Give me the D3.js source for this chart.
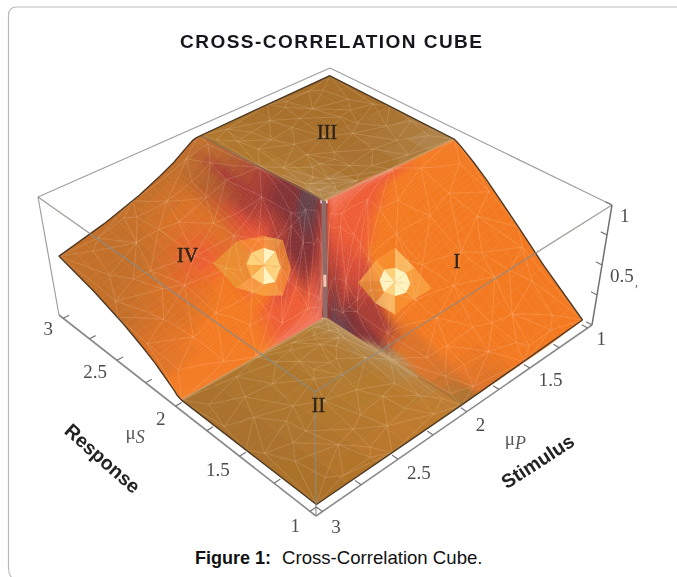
<!DOCTYPE html>
<html>
<head>
<meta charset="utf-8">
<script src="https://d3js.org/d3.v7.min.js"></script>
<style>
  html, body { margin: 0; padding: 0; background: #fff; overflow: hidden; }
  svg { display: block; }
</style>
</head>
<body>
<svg id="chart"></svg>
<script>
// surface values
// quadrant I: stimulus below 2, response below 2
const muP_I = [1, 1.3, 1.55, 1.7, 1.8, 1.85, 1.9, 1.94, 1.97, 2];
const muS_I = [1, 1.3, 1.5, 1.65, 1.75, 1.85, 1.9, 1.95, 1.98, 2];
const z_I = [
  [.04, .30, .50, .65, .75, .84, .88, .92, .94, .95],
  [.02, .23, .41, .57, .68, .79, .85, .91, .95, .96],
  [.02, .16, .31, .46, .57, .72, .80, .90, .96, .98],
  [.02, .11, .23, .36, .47, .63, .73, .85, .94, 1],
  [.02, .08, .17, .27, .38, .53, .64, .79, .91, 1],
  [.02, .06, .13, .22, .31, .46, .57, .74, .88, 1],
  [.02, .04, .09, .16, .23, .36, .47, .66, .83, 1],
  [.02, .03, .06, .10, .15, .25, .35, .53, .75, 1],
  [.02, .02, .03, .05, .08, .15, .21, .36, .60, 1],
  [.02, .02, .02, .02, .02, .02, .02, .02, .02, .02],
];
const tone_I = [
  "oooooooooo",
  "oooooooooo",
  "ooooooooeE",
  "nooooooeeE",
  "noooooeeeE",
  "nnnorreeeE",
  "bnnddrreeE",
  "bnndddrreE",
  "bntmmmddre",
  "bbttmgggmg",
];

// quadrant IV: both above 2
const muP_IV = [2, 2.03, 2.06, 2.1, 2.15, 2.2, 2.3, 2.45, 2.7, 3];
const muS_IV = [2, 2.03, 2.06, 2.1, 2.15, 2.2, 2.3, 2.45, 2.7, 3];
const z_IV = [
  [.5, 1, 1, 1, 1, 1, .99, .98, .96, .95],
  [.02, .5, .67, .77, .83, .87, .91, .94, .95, .95],
  [.02, .33, .5, .63, .71, .77, .83, .88, .92, .94],
  [.02, .23, .38, .5, .6, .67, .75, .82, .88, .91],
  [.02, .17, .29, .4, .5, .57, .67, .75, .82, .87],
  [.02, .13, .23, .33, .43, .5, .6, .69, .78, .83],
  [.02, .09, .17, .25, .33, .4, .5, .6, .7, .77],
  [.02, .06, .12, .18, .25, .31, .4, .5, .61, .69],
  [.02, .04, .08, .13, .18, .22, .3, .39, .5, .59],
  [.02, .03, .06, .09, .13, .17, .23, .31, .41, .5],
];
const tone_IV = [
  "EmgggmmdDN",
  "EdmggmmdDN",
  "ErmmmmmdDN",
  "EedmmddddN",
  "EeerddrdDN",
  "EeereeerDN",
  "EeeeoeennN",
  "oooooooenN",
  "oooooonnNN",
  "oooonnnNNN",
];

// the two flat quadrants
const muP_II = [2, 2.15, 2.4, 3];
const muS_II = [1, 1.5, 2];
const z_II = [[.02, .02, .02], [.02, .02, .02], [.02, .02, .02], [.02, .02, .02]];
const tone_II = ["ctt", "cBB", "cBB", "bbb"];

const muP_III = [1, 1.6, 2];
const muS_III = [2, 2.5, 3];
const z_III = [[.95, .96, .97], [.97, .97, .96], [1, .98, .95]];
const tone_III = ["tbb", "bbb", "tBB"];

// highlight facets: centre, inner ring, outer ring
const spotI_P = [1.762, 1.703, 1.746, 1.798, 1.829, 1.821, 1.778, 1.726, 1.695,
  1.63, 1.735, 1.845, 1.882, 1.9, 1.789, 1.68, 1.642];
const spotI_S = [1.706, 1.647, 1.639, 1.67, 1.722, 1.765, 1.773, 1.742, 1.69,
  1.56, 1.592, 1.62, 1.735, 1.845, 1.82, 1.79, 1.677];
const spotI_core = "wwywwyww";
const spotI_rim = "aOyAaOya";

const spotIV_P = [2.245, 2.18, 2.231, 2.29, 2.323, 2.31, 2.259, 2.2, 2.167,
  2.141, 2.223, 2.317, 2.417, 2.434, 2.276, 2.173, 2.12];
const spotIV_S = [2.215, 2.15, 2.137, 2.17, 2.229, 2.28, 2.293, 2.26, 2.201,
  2.111, 2.09, 2.143, 2.246, 2.404, 2.387, 2.287, 2.193];
const spotIV_core = "ywyayywy";
const spotIV_rim = "OaaAAOaO";

// mesh vertices, as fractions away from the centre of the cube
const meshF = [0, 1, 0, 1, .5, .5, 0, 1, .25, .75, .12, .38, .62, .88, .3, .7, .18, .45, .55, .82,
  .92, .08, .35, .65, .22, .48, .78, .05, .15, .03, .09, .02, .06, .13, .2, .28, .04, .11, .17, .07,
  .42, .58, .95, .33, .72, .15, .85, .52, .27, .68, .1, .97, .4, .6, .8, .24, .03, .36];
const meshG = [0, 0, 1, 1, 0, 1, .5, .5, .3, .2, .65, .85, .42, .72, .55, .6, .15, .1, .9, .35,
  .12, .4, .28, .78, .82, .5, .95, .2, .07, .05, .03, .12, .1, .22, .3, .04, .15, .02, .1, .18,
  .7, .22, .58, .08, .48, .95, .9, .75, .42, .05, .8, .3, .34, .95, .62, .68, .9, .18];

const palette = {
  b: "#a8702c", B: "#b27a30", c: "#c07a2c", t: "#b48c58", g: "#664048", m: "#833034", d: "#a83c34",
  r: "#d64c38", e: "#ee5c34", E: "#f2785e", o: "#f47a22", O: "#f99634", n: "#dc7228", N: "#c2702a",
  D: "#b25c2c", A: "#ea9c34", a: "#f9ac48", y: "#fdd27a", w: "#fff4c0",
};

const muTicks = [1, 1.25, 1.5, 1.75, 2, 2.25, 2.5, 2.75, 3];
const muLabels = [1, 1.5, 2, 2.5, 3];
const zTicks = [0, .25, .5, .75, 1];
const zLabels = [.5, 1];

const width = 677;
const height = 577;

// cube corners on the page, [right, front, left, back]
const baseQuad = [[592, 325], [316, 516], [59, 315], [332, 181]];
const topQuad = [[612, 205], [315, 392], [38, 197], [330, 68]];

function squareToQuad(q) {
  const dx1 = q[1][0] - q[2][0], dx2 = q[3][0] - q[2][0], dx3 = q[0][0] - q[1][0] + q[2][0] - q[3][0];
  const dy1 = q[1][1] - q[2][1], dy2 = q[3][1] - q[2][1], dy3 = q[0][1] - q[1][1] + q[2][1] - q[3][1];
  const den = dx1 * dy2 - dx2 * dy1;
  const g = (dx3 * dy2 - dx2 * dy3) / den;
  const h = (dx1 * dy3 - dx3 * dy1) / den;
  const a = q[1][0] - q[0][0] + g * q[1][0];
  const b = q[3][0] - q[0][0] + h * q[3][0];
  const d = q[1][1] - q[0][1] + g * q[1][1];
  const e = q[3][1] - q[0][1] + h * q[3][1];
  return (u, v) => {
    const w = g * u + h * v + 1;
    return [(a * u + b * v + q[0][0]) / w, (d * u + e * v + q[0][1]) / w];
  };
}

const onBase = squareToQuad(baseQuad);
const onTop = squareToQuad(topQuad);
const scaleP = d3.scaleLinear([0.96, 3.04], [0, 1]);
const scaleS = d3.scaleLinear([0.96, 3.04], [0, 1]);
const scaleZ = d3.scaleLinear([0, 1], [0, 1]);

function project(mp, ms, z) {
  const u = scaleP(mp), v = scaleS(ms), w = scaleZ(z);
  const p0 = onBase(u, v), p1 = onTop(u, v);
  return [p0[0] + (p1[0] - p0[0]) * w, p0[1] + (p1[1] - p0[1]) * w];
}

const patches = [
  { muP: muP_III, muS: muS_III, z: z_III, tone: tone_III, sub: 3 },
  { muP: muP_IV, muS: muS_IV, z: z_IV, tone: tone_IV, sub: 4 },
  { muP: muP_I, muS: muS_I, z: z_I, tone: tone_I, sub: 4 },
  { muP: muP_II, muS: muS_II, z: z_II, tone: tone_II, sub: 3 },
];

function cellOf(list, value) {
  return Math.max(0, Math.min(list.length - 2, d3.bisectRight(list, value) - 1));
}

function patchFor(mp, ms) {
  if (mp <= 2) return ms <= 2 ? patches[2] : patches[0];
  return ms <= 2 ? patches[3] : patches[1];
}

function mixCell(patch, i, j, s, t) {
  const z = patch.z;
  return (z[i][j] * (1 - s) + z[i + 1][j] * s) * (1 - t) + (z[i][j + 1] * (1 - s) + z[i + 1][j + 1] * s) * t;
}

function zAt(mp, ms) {
  const patch = patchFor(mp, ms);
  const i = cellOf(patch.muP, mp), j = cellOf(patch.muS, ms);
  const s = (mp - patch.muP[i]) / (patch.muP[i + 1] - patch.muP[i]);
  const t = (ms - patch.muS[j]) / (patch.muS[j + 1] - patch.muS[j]);
  return mixCell(patch, i, j, s, t);
}

function lerpRgb(a, b, t) {
  return { r: a.r + (b.r - a.r) * t, g: a.g + (b.g - a.g) * t, b: a.b + (b.b - a.b) * t };
}

const svg = d3.select("#chart")
  .attr("width", width)
  .attr("height", height)
  .attr("viewBox", [0, 0, width, height])
  .style("font-family", "'Liberation Serif', serif");

const defs = svg.append("defs");
defs.append("filter").attr("id", "soft").attr("x", "-5%").attr("y", "-5%").attr("width", "110%").attr("height", "110%")
  .append("feGaussianBlur").attr("stdDeviation", 0.6);
defs.append("filter").attr("id", "softText").attr("x", "-10%").attr("y", "-20%").attr("width", "120%").attr("height", "140%")
  .append("feGaussianBlur").attr("stdDeviation", 0.45);

// panel border, open on the right
svg.append("path")
  .attr("d", "M677,7 H17 Q8.5,7 8.5,15.5 V568 Q8.5,575 13,579")
  .attr("fill", "none")
  .attr("stroke", "#b9b9b9")
  .attr("stroke-width", 1.2);

const plot = svg.append("g").attr("filter", "url(#soft)");

function line3d(points) {
  return d3.line()(points.map(p => project(p[0], p[1], p[2])));
}

// back edges of the cube, behind the surface
plot.append("path")
  .attr("d", line3d([[0.96, 3.04, 1], [3.04, 3.04, 1]]) + line3d([[0.96, 3.04, 1], [0.96, 0.96, 1]]) + line3d([[3.04, 3.04, 1], [3.04, 3.04, 0]]))
  .attr("fill", "none").attr("stroke", "#a0a0a0").attr("stroke-width", 1.2);
plot.append("path")
  .attr("d", line3d([[0.96, 0.96, 1], [0.96, 0.96, 0]]))
  .attr("fill", "none").attr("stroke", "#6f6f6f").attr("stroke-width", 1.5);

// backing for the cliff, so no paper shows between the two slopes
plot.append("path").attr("d", line3d([[2, 2, .02], [2, 2, .98]]))
  .attr("fill", "none").attr("stroke", "#9a4a44").attr("stroke-width", 12);

// surface cells, far ones first
const surface = plot.append("g");
for (const patch of patches) {
  const cells = [];
  for (let i = 0; i < patch.muP.length - 1; i++) {
    for (let j = 0; j < patch.muS.length - 1; j++) {
      cells.push({ i, j, depth: onBase(scaleP(patch.muP[i]), scaleS(patch.muS[j]))[1] });
    }
  }
  cells.sort((a, b) => a.depth - b.depth);
  for (const cell of cells) {
    const { i, j } = cell;
    const c00 = d3.rgb(palette[patch.tone[i][j]]);
    const c10 = d3.rgb(palette[patch.tone[i + 1][j]]);
    const c01 = d3.rgb(palette[patch.tone[i][j + 1]]);
    const c11 = d3.rgb(palette[patch.tone[i + 1][j + 1]]);
    const n = patch.sub;
    const at = (s, t) => {
      const mp = patch.muP[i] + (patch.muP[i + 1] - patch.muP[i]) * s;
      const ms = patch.muS[j] + (patch.muS[j + 1] - patch.muS[j]) * t;
      return project(mp, ms, mixCell(patch, i, j, s, t));
    };
    for (let a = 0; a < n; a++) {
      for (let b = 0; b < n; b++) {
        const s = (a + 0.5) / n, t = (b + 0.5) / n;
        const col = lerpRgb(lerpRgb(c00, c10, s), lerpRgb(c01, c11, s), t);
        const fill = d3.rgb(col.r, col.g, col.b).formatHex();
        surface.append("polygon")
          .attr("points", [at(a / n, b / n), at((a + 1) / n, b / n), at((a + 1) / n, (b + 1) / n), at(a / n, (b + 1) / n)].join(" "))
          .attr("fill", fill)
          .attr("stroke", fill)
          .attr("stroke-width", 0.6);
      }
    }
  }
}

// highlight facets
function drawSpot(sp, ss, core, rim) {
  const g = plot.append("g");
  const pt = k => project(sp[k], ss[k], zAt(sp[k], ss[k]));
  for (let k = 0; k < 8; k++) {
    const a = 1 + k, b = 1 + (k + 1) % 8;
    g.append("polygon")
      .attr("points", [pt(a), pt(b), pt(b + 8), pt(a + 8)].join(" "))
      .attr("fill", palette[rim[k]]).attr("fill-opacity", 0.7);
  }
  for (let k = 0; k < 8; k++) {
    const a = 1 + k, b = 1 + (k + 1) % 8;
    g.append("polygon")
      .attr("points", [pt(0), pt(a), pt(b)].join(" "))
      .attr("fill", palette[core[k]]);
  }
}
drawSpot(spotI_P, spotI_S, spotI_core, spotI_rim);
drawSpot(spotIV_P, spotIV_S, spotIV_core, spotIV_rim);

// white mesh, one set of edges per quadrant
const delaunay = d3.Delaunay.from(meshF.map((f, k) => [f, meshG[k]]));
const meshEdges = [];
for (let e = 0; e < delaunay.halfedges.length; e++) {
  const o = delaunay.halfedges[e];
  if (o < e) continue;
  const next = e % 3 === 2 ? e - 2 : e + 1;
  meshEdges.push([delaunay.triangles[e], delaunay.triangles[next]]);
}
const meshPath = d3.path();
[[-1, -1], [-1, 1], [1, 1], [1, -1]].forEach(([sp, ss]) => {
  for (const [p, q] of meshEdges) {
    for (let k = 0; k <= 6; k++) {
      const t = k / 6;
      const f = meshF[p] + (meshF[q] - meshF[p]) * t;
      const g = meshG[p] + (meshG[q] - meshG[p]) * t;
      const mp = 2 + sp * Math.max(f, 0.006);
      const ms = 2 + ss * Math.max(g, 0.006);
      const xy = project(mp, ms, zAt(mp, ms));
      if (k === 0) meshPath.moveTo(xy[0], xy[1]); else meshPath.lineTo(xy[0], xy[1]);
    }
  }
});
plot.append("path")
  .attr("d", meshPath.toString())
  .attr("fill", "none")
  .attr("stroke", "#fff0dc")
  .attr("stroke-opacity", 0.2)
  .attr("stroke-width", 0.8);

// folds of the surface
function surfaceLine(points) {
  return d3.line()(points.map(p => project(p[0], p[1], zAt(p[0], p[1]))));
}
plot.append("path").attr("d", line3d([[1, 2, .95], [2, 2, 1]]))
  .attr("fill", "none").attr("stroke", "#cfa678").attr("stroke-width", 2).attr("stroke-opacity", 0.6);
plot.append("path").attr("d", line3d([[2, 2, 1], [2, 3, .95]]))
  .attr("fill", "none").attr("stroke", "#8a6a4a").attr("stroke-width", 2).attr("stroke-opacity", 0.7);
plot.append("path").attr("d", line3d([[2, 2, .02], [3, 2, .02]]))
  .attr("fill", "none").attr("stroke", "#c9a474").attr("stroke-width", 2).attr("stroke-opacity", 0.6);
plot.append("path").attr("d", line3d([[2, 2, .02], [2, 1.3, .02]]))
  .attr("fill", "none").attr("stroke", "#c9a474").attr("stroke-width", 2).attr("stroke-opacity", 0.6);

// the cliff in the middle
plot.append("path").attr("d", line3d([[2, 2, .02], [2, 2, 1]]))
  .attr("fill", "none").attr("stroke", "#8f6a68").attr("stroke-width", 4.5);
plot.append("path").attr("d", line3d([[2, 2, .28], [2, 2, .38]]))
  .attr("fill", "none").attr("stroke", "#f6c6b0").attr("stroke-width", 3);

// outline of the surface
const outline = [];
muS_I.forEach(ms => outline.push([1, ms]));
muS_III.slice(1).forEach(ms => outline.push([1, ms]));
muP_III.slice(1).forEach(mp => outline.push([mp, 3]));
muP_IV.slice(1).forEach(mp => outline.push([mp, 3]));
muS_IV.slice().reverse().slice(1).forEach(ms => outline.push([3, ms]));
muS_II.slice().reverse().slice(1).forEach(ms => outline.push([3, ms]));
muP_II.slice().reverse().slice(1).forEach(mp => outline.push([mp, 1]));
outline.push([1, 1]);
plot.append("path")
  .attr("d", surfaceLine(outline))
  .attr("fill", "none")
  .attr("stroke", "#4e3c28")
  .attr("stroke-width", 1.4)
  .attr("stroke-linejoin", "round");

// front edges of the cube, in front of the surface
plot.append("path")
  .attr("d", line3d([[0.96, 0.96, 1], [3.04, 0.96, 1]]) + line3d([[3.04, 3.04, 1], [3.04, 0.96, 1]]) + line3d([[3.04, 0.96, 1], [3.04, 0.96, 0]]))
  .attr("fill", "none").attr("stroke", "#8c8a84").attr("stroke-opacity", 0.8).attr("stroke-width", 1.4);
plot.append("path")
  .attr("d", line3d([[0.96, 0.96, 0], [3.04, 0.96, 0]]) + line3d([[3.04, 0.96, 0], [3.04, 3.04, 0]]))
  .attr("fill", "none").attr("stroke", "#8a8a8a").attr("stroke-width", 1.6);

// ticks
const tickPath = d3.path();
function addTick(a, b) {
  tickPath.moveTo(a[0], a[1]);
  tickPath.lineTo(b[0], b[1]);
}
muTicks.forEach(t => {
  addTick(project(t, 0.96, 0), project(t, 1.0, 0));
  addTick(project(3.04, t, 0), project(3.0, t, 0));
});
zTicks.forEach(t => {
  addTick(project(0.96, 0.96, t), project(0.96, 1.0, t));
});
plot.append("path").attr("d", tickPath.toString()).attr("fill", "none").attr("stroke", "#777").attr("stroke-width", 1.2);

const texts = svg.append("g").attr("filter", "url(#softText)");

// tick labels sit further out as the edge comes towards the viewer
const offsetS = d3.scaleLinear([3, 1], [11, 15]);
muLabels.forEach(t => {
  const p = project(3.04, t, 0);
  texts.append("text")
    .attr("x", p[0] - 10).attr("y", p[1] + offsetS(t) + 6)
    .attr("text-anchor", "end").attr("font-size", 19).attr("fill", "#4e4e4e")
    .text(t);
  const q = project(t, 0.96, 0);
  texts.append("text")
    .attr("x", q[0] + 9).attr("y", q[1] + offsetS(4 - t) + 6)
    .attr("text-anchor", "start").attr("font-size", 19).attr("fill", "#4e4e4e")
    .text(t);
});
zLabels.forEach(t => {
  const p = project(0.96, 0.96, t);
  texts.append("text")
    .attr("x", p[0] + 8).attr("y", p[1] + 17)
    .attr("font-size", 19).attr("fill", "#4e4e4e")
    .text(t);
});
const zMid = project(0.96, 0.96, .5);
texts.append("text").attr("x", zMid[0] + 33).attr("y", zMid[1] + 21).attr("font-size", 12).attr("fill", "#555").text(",");

function muLabel(x, y, sub) {
  const t = texts.append("text").attr("x", x).attr("y", y).attr("font-size", 19).attr("fill", "#585858");
  t.append("tspan").text("\u03bc");
  t.append("tspan").attr("dy", 4).attr("font-size", 18).attr("font-style", "italic").text(sub);
}
const midS = project(3.04, 2, 0);
const midP = project(2, 0.96, 0);
muLabel(midS[0] - 50, midS[1] + 33, "S");
muLabel(midP[0] + 38, midP[1] + 33, "P");

// region names
const regionNames = ["I", "II", "III", "IV"];
const regionP = [1.492, 2.51, 1.5, 2.497];
const regionS = [1.514, 1.51, 2.5, 2.538];
const regionZ = [.5, 0, 1, .5];
regionNames.forEach((name, k) => {
  const p = project(regionP[k], regionS[k], regionZ[k]);
  texts.append("text")
    .attr("x", p[0]).attr("y", p[1] + 7)
    .attr("text-anchor", "middle").attr("font-size", 20).attr("fill", "#2e2418")
    .attr("stroke", "#2e2418").attr("stroke-width", 0.4)
    .text(name);
});

// sans text
texts.append("text")
  .attr("x", 331).attr("y", 48)
  .attr("text-anchor", "middle")
  .attr("font-family", "'Liberation Sans', sans-serif")
  .attr("font-weight", "bold").attr("font-size", 19).attr("fill", "#16161e")
  .attr("textLength", 302).attr("lengthAdjust", "spacing")
  .text("CROSS-CORRELATION CUBE");

texts.append("text")
  .attr("transform", "translate(102,459) rotate(41.5)")
  .attr("text-anchor", "middle").attr("dy", 6)
  .attr("font-family", "'Liberation Sans', sans-serif")
  .attr("font-weight", "bold").attr("font-size", 19.5).attr("fill", "#222")
  .text("Response");

texts.append("text")
  .attr("transform", "translate(538,462) rotate(-33)")
  .attr("text-anchor", "middle").attr("dy", 6)
  .attr("font-family", "'Liberation Sans', sans-serif")
  .attr("font-weight", "bold").attr("font-size", 19.5).attr("fill", "#222")
  .text("Stimulus");

const caption = svg.append("text")
  .attr("x", 195).attr("y", 564)
  .attr("font-family", "'Liberation Sans', sans-serif")
  .attr("font-size", 18.6).attr("fill", "#111");
caption.append("tspan").attr("font-weight", "bold").attr("font-size", 18).text("Figure 1:");
caption.append("tspan").attr("dx", 11).text("Cross-Correlation Cube.");
</script>
</body>
</html>
